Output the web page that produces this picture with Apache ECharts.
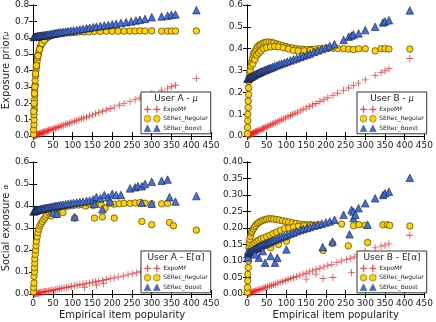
<!DOCTYPE html>
<html>
<head>
<meta charset="utf-8">
<script src="https://cdn.jsdelivr.net/npm/echarts@6/dist/echarts.min.js"></script>
<style>
    html, body { margin: 0; padding: 0; background: #fff; }
    #main { width: 436px; height: 322px; }
</style>
</head>
<body>
<div id="main"></div>
<script>
// ---- data: [popularity, value] ----
var xTicks = [0, 50, 100, 150, 200, 250, 300, 350, 400, 450];
var yMaxes = [0.8, 0.6, 0.6, 0.4];
var ySteps = [0.1, 0.1, 0.1, 0.05];
var seriesNames = ['ExpoMF', 'SERec_Regular', 'SERec_Boost'];
var panelTitles = ['User A - ', 'User B - ', 'User A - ', 'User B - '];
var panelSymbols = ['μ', 'μ', 'E[α]', 'E[α]'];

var expoA_mu = [[2,0.0],[4,0.002],[5,0.004],[6,0.005],[8,0.007],[9,0.008],[10,0.009],[12,0.01],[13,0.011],[15,0.013],[16,0.014],[18,0.016],[20,0.017],[22,0.019],[24,0.021],[26,0.022],[28,0.024],[30,0.026],[33,0.028],[36,0.031],[39,0.034],[42,0.036],[45,0.039],[48,0.041],[52,0.045],[56,0.048],[60,0.052],[64,0.055],[68,0.059],[72,0.062],[77,0.066],[82,0.071],[87,0.075],[92,0.079],[98,0.084],[104,0.09],[110,0.095],[116,0.1],[122,0.105],[128,0.11],[135,0.116],[142,0.122],[150,0.129],[158,0.136],[166,0.143],[175,0.151],[185,0.159],[195,0.168],[205,0.176],[218,0.188],[230,0.198],[245,0.211],[258,0.222],[270,0.232],[283,0.243],[300,0.258],[325,0.28],[340,0.292],[350,0.301],[360,0.31],[413,0.352]];
var regA_mu = [[1,0.01],[1,0.04],[2,0.07],[2,0.1],[2,0.13],[3,0.16],[3,0.19],[3,0.22],[4,0.25],[4,0.28],[5,0.31],[5,0.34],[6,0.37],[7,0.4],[8,0.42],[9,0.44],[10,0.46],[11,0.48],[13,0.5],[15,0.52],[17,0.54],[20,0.555],[23,0.57],[26,0.58],[30,0.59],[34,0.6],[38,0.605],[43,0.61],[48,0.615],[54,0.62],[60,0.62],[67,0.625],[75,0.625],[85,0.63],[95,0.63],[105,0.632],[115,0.635],[128,0.635],[140,0.636],[155,0.638],[170,0.638],[185,0.64],[200,0.64],[215,0.64],[230,0.64],[245,0.641],[258,0.641],[270,0.642],[283,0.641],[300,0.642],[325,0.64],[340,0.641],[350,0.641],[360,0.641],[413,0.642],[4,0.3],[6,0.38],[8,0.43],[12,0.49],[16,0.53],[22,0.565],[28,0.585],[2,0.2],[3,0.26],[1,0.15]];
var boostA_mu = [[1,0.605],[3,0.606],[5,0.606],[7,0.607],[9,0.608],[11,0.609],[13,0.61],[15,0.611],[18,0.612],[21,0.613],[24,0.614],[27,0.615],[30,0.616],[33,0.618],[36,0.619],[40,0.62],[44,0.622],[48,0.624],[52,0.626],[56,0.628],[60,0.63],[65,0.632],[70,0.634],[76,0.636],[82,0.638],[88,0.64],[95,0.643],[102,0.645],[110,0.648],[118,0.651],[126,0.655],[135,0.658],[143,0.661],[152,0.665],[160,0.668],[170,0.671],[180,0.675],[190,0.678],[200,0.682],[210,0.685],[222,0.69],[235,0.695],[248,0.7],[260,0.705],[270,0.71],[283,0.715],[300,0.725],[325,0.73],[340,0.735],[350,0.74],[360,0.742],[413,0.768]];

var expoB_mu = [[2,0.0],[4,0.002],[5,0.003],[6,0.005],[8,0.006],[9,0.008],[10,0.009],[12,0.01],[13,0.011],[15,0.012],[16,0.014],[18,0.015],[20,0.017],[22,0.019],[24,0.02],[26,0.022],[28,0.024],[30,0.025],[33,0.028],[36,0.03],[39,0.033],[42,0.035],[45,0.038],[48,0.041],[52,0.044],[56,0.047],[60,0.051],[64,0.054],[68,0.058],[72,0.061],[77,0.065],[82,0.07],[87,0.074],[92,0.078],[98,0.083],[104,0.088],[110,0.094],[116,0.099],[122,0.104],[128,0.109],[135,0.115],[142,0.121],[150,0.128],[158,0.135],[166,0.142],[175,0.149],[185,0.158],[195,0.166],[205,0.175],[218,0.186],[230,0.196],[245,0.209],[258,0.22],[270,0.231],[283,0.242],[300,0.257],[325,0.278],[340,0.29],[350,0.299],[360,0.308],[413,0.355]];
var regB_mu = [[1,0.01],[1,0.04],[2,0.07],[2,0.1],[3,0.13],[3,0.16],[4,0.19],[4,0.22],[5,0.25],[6,0.27],[7,0.29],[8,0.3],[10,0.32],[12,0.34],[14,0.355],[16,0.37],[18,0.38],[21,0.39],[24,0.4],[27,0.41],[31,0.415],[35,0.42],[40,0.425],[45,0.428],[50,0.43],[56,0.43],[62,0.428],[68,0.426],[75,0.422],[82,0.418],[90,0.414],[98,0.41],[106,0.406],[115,0.403],[124,0.4],[133,0.398],[142,0.397],[152,0.396],[162,0.397],[172,0.398],[182,0.4],[193,0.401],[205,0.402],[218,0.402],[230,0.401],[245,0.4],[258,0.398],[270,0.396],[283,0.399],[300,0.4],[325,0.39],[340,0.4],[350,0.4],[360,0.398],[413,0.398],[15,0.33],[20,0.35],[25,0.37],[30,0.38],[35,0.39],[42,0.4],[50,0.405],[60,0.408],[70,0.41],[80,0.408],[92,0.404],[105,0.398],[118,0.392],[130,0.39],[145,0.39],[160,0.392]];
var boostB_mu = [[1,0.262],[3,0.264],[5,0.266],[7,0.268],[9,0.27],[11,0.272],[13,0.274],[15,0.276],[18,0.279],[21,0.282],[24,0.285],[27,0.287],[30,0.29],[33,0.292],[36,0.295],[40,0.298],[44,0.301],[48,0.304],[52,0.307],[56,0.31],[60,0.312],[65,0.316],[70,0.32],[76,0.324],[82,0.328],[88,0.332],[95,0.336],[102,0.341],[110,0.346],[118,0.351],[126,0.356],[135,0.362],[143,0.367],[152,0.373],[160,0.378],[170,0.385],[180,0.392],[190,0.398],[200,0.405],[210,0.412],[222,0.42],[245,0.44],[258,0.455],[265,0.46],[270,0.465],[283,0.47],[300,0.485],[325,0.5],[345,0.52],[350,0.525],[360,0.53],[413,0.575]];

var expoA_al = [[2,0.0],[4,0.001],[6,0.002],[8,0.003],[10,0.003],[12,0.004],[14,0.005],[16,0.006],[19,0.007],[22,0.008],[25,0.009],[28,0.01],[31,0.011],[35,0.012],[39,0.014],[43,0.015],[47,0.017],[52,0.018],[57,0.02],[62,0.022],[67,0.024],[72,0.026],[78,0.028],[84,0.03],[90,0.032],[97,0.034],[104,0.037],[111,0.04],[118,0.042],[126,0.045],[134,0.048],[142,0.05],[150,0.053],[158,0.056],[166,0.059],[175,0.062],[185,0.066],[195,0.07],[205,0.073],[215,0.077],[228,0.082],[240,0.087],[252,0.092],[262,0.097],[272,0.102],[282,0.108],[292,0.112],[130,0.03],[160,0.04],[178,0.047]];
var regA_al = [[1,0.01],[1,0.03],[2,0.05],[2,0.08],[3,0.1],[3,0.12],[4,0.14],[4,0.16],[5,0.18],[6,0.2],[7,0.22],[8,0.24],[10,0.26],[12,0.28],[14,0.295],[17,0.31],[20,0.32],[23,0.33],[27,0.34],[31,0.35],[35,0.36],[40,0.37],[45,0.375],[50,0.38],[56,0.385],[62,0.39],[68,0.393],[75,0.396],[82,0.398],[90,0.4],[98,0.402],[106,0.404],[115,0.405],[124,0.406],[133,0.4],[142,0.41],[152,0.402],[162,0.41],[172,0.405],[182,0.39],[193,0.412],[205,0.408],[218,0.41],[230,0.412],[245,0.412],[258,0.414],[270,0.415],[283,0.412],[300,0.41],[325,0.41],[340,0.412],[105,0.345],[155,0.345],[175,0.35],[205,0.345],[275,0.33],[300,0.315],[345,0.325],[355,0.31],[413,0.29],[60,0.36],[75,0.37],[45,0.355]];
var boostA_al = [[1,0.375],[3,0.377],[5,0.378],[7,0.38],[9,0.381],[11,0.382],[13,0.383],[15,0.384],[18,0.385],[21,0.387],[24,0.388],[27,0.389],[30,0.39],[33,0.391],[36,0.392],[40,0.394],[44,0.395],[48,0.397],[52,0.398],[56,0.4],[60,0.401],[65,0.403],[70,0.405],[76,0.406],[82,0.408],[88,0.41],[95,0.412],[102,0.414],[110,0.416],[118,0.418],[126,0.42],[135,0.423],[143,0.425],[152,0.43],[160,0.44],[170,0.435],[180,0.45],[190,0.44],[200,0.455],[210,0.45],[222,0.45],[245,0.48],[258,0.485],[265,0.49],[275,0.49],[283,0.5],[300,0.51],[325,0.515],[340,0.52],[105,0.35],[175,0.385],[50,0.37],[60,0.365],[275,0.415],[300,0.41],[345,0.44],[360,0.42],[413,0.445],[155,0.41],[195,0.42]];

var expoB_al = [[2,0.0],[4,0.001],[6,0.002],[8,0.003],[10,0.004],[12,0.005],[14,0.006],[16,0.007],[19,0.008],[22,0.009],[25,0.01],[28,0.012],[31,0.013],[35,0.015],[39,0.016],[43,0.018],[47,0.02],[52,0.022],[57,0.024],[62,0.026],[67,0.028],[72,0.03],[78,0.033],[84,0.035],[90,0.038],[97,0.041],[104,0.044],[111,0.047],[118,0.05],[126,0.053],[134,0.057],[142,0.06],[150,0.063],[158,0.067],[166,0.07],[175,0.074],[185,0.078],[195,0.082],[205,0.086],[215,0.09],[228,0.095],[240,0.1],[252,0.104],[262,0.108],[272,0.112],[283,0.12],[300,0.13],[325,0.14],[340,0.145],[350,0.148],[360,0.152],[413,0.178],[193,0.047],[218,0.05],[265,0.065],[300,0.08],[150,0.045],[175,0.06]];
var regB_al = [[1,0.005],[1,0.02],[2,0.04],[2,0.06],[3,0.08],[4,0.1],[4,0.12],[5,0.14],[6,0.155],[7,0.165],[9,0.175],[11,0.185],[13,0.19],[16,0.197],[19,0.203],[22,0.208],[26,0.213],[30,0.217],[35,0.22],[40,0.223],[45,0.225],[50,0.227],[56,0.228],[62,0.228],[68,0.227],[75,0.226],[82,0.224],[90,0.222],[98,0.22],[106,0.218],[115,0.216],[124,0.214],[133,0.212],[142,0.211],[152,0.21],[162,0.21],[172,0.209],[182,0.21],[15,0.15],[20,0.155],[25,0.16],[30,0.163],[36,0.167],[42,0.17],[50,0.174],[58,0.178],[66,0.183],[75,0.188],[85,0.193],[95,0.198],[106,0.2],[118,0.203],[130,0.205],[145,0.207],[160,0.208],[193,0.132],[217,0.153],[257,0.146],[306,0.156],[270,0.207],[284,0.21],[240,0.212],[300,0.208],[345,0.21],[356,0.21],[362,0.208],[413,0.206],[60,0.14],[80,0.15],[100,0.16]];
var boostB_al = [[1,0.12],[2,0.11],[3,0.13],[5,0.125],[7,0.127],[9,0.128],[11,0.13],[13,0.131],[15,0.133],[18,0.135],[21,0.137],[24,0.139],[27,0.141],[30,0.143],[33,0.145],[36,0.147],[40,0.149],[44,0.151],[48,0.153],[52,0.155],[56,0.157],[60,0.159],[65,0.162],[70,0.164],[76,0.167],[82,0.17],[88,0.173],[95,0.176],[102,0.179],[110,0.183],[118,0.186],[126,0.19],[135,0.194],[143,0.197],[152,0.2],[160,0.203],[170,0.207],[180,0.21],[190,0.213],[200,0.217],[210,0.22],[222,0.225],[245,0.24],[265,0.255],[270,0.25],[283,0.26],[300,0.275],[325,0.29],[345,0.3],[350,0.305],[360,0.31],[413,0.352],[46,0.095],[71,0.095],[77,0.11],[60,0.115],[30,0.11],[100,0.135],[192,0.142],[217,0.159],[260,0.181],[270,0.23],[275,0.24],[306,0.21],[20,0.12],[40,0.13]];

(function () {
    "use strict";

    var FONT = 'DejaVu Sans';
    var panelData = [
        [expoA_mu, regA_mu, boostA_mu],
        [expoB_mu, regB_mu, boostB_mu],
        [expoA_al, regA_al, boostA_al],
        [expoB_al, regB_al, boostB_al]
    ];
    var grids = [
        { left: 31, top: 5, width: 180, height: 131 },
        { left: 247, top: 5, width: 179, height: 131 },
        { left: 31, top: 162, width: 180, height: 132 },
        { left: 247, top: 162, width: 179, height: 132 }
    ];
    var legendPos = [[141, 92], [357, 92], [141, 251], [357, 251]];

    var plusPath = 'path://M4.4,0h1.2v4.4h4.4v1.2h-4.4v4.4h-1.2v-4.4h-4.4v-1.2h4.4z';
    var plusPair = 'path://M4,0h2v4h4v2h-4v4h-2v-4h-4v-2h4zM18,0h2v4h4v2h-4v4h-2v-4h-4v-2h4z';
    var circlePair = 'path://M0,5a5,5 0 1,0 10,0a5,5 0 1,0 -10,0zM14,5a5,5 0 1,0 10,0a5,5 0 1,0 -10,0z';
    var triPair = 'path://M0,10L5,0L10,10zM14,10L19,0L24,10z';

    var styles = [
        { symbol: plusPath, size: 7, color: 'rgba(238,30,30,0.8)', border: 'rgba(0,0,0,0)', bw: 0, icon: plusPair },
        { symbol: 'circle', size: 6.5, color: '#FFD200', border: '#2a2400', bw: 0.6, icon: circlePair },
        { symbol: 'triangle', size: 7.5, color: '#4470DC', border: '#101830', bw: 0.6, icon: triPair }
    ];

    function tickFmt(i) {
        return function (v) {
            return ySteps[i] < 0.1 ? v.toFixed(2) : v.toFixed(1);
        };
    }

    function getXAxis() {
        var axes = [];
        for (var i = 0; i < 4; i++) {
            var showName = i >= 2;
            axes.push({
                type: 'value', gridIndex: i, position: 'bottom',
                min: xTicks[0], max: xTicks[xTicks.length - 1], interval: xTicks[1] - xTicks[0],
                name: showName ? 'Empirical item popularity' : '',
                nameLocation: 'middle', nameGap: 16,
                nameTextStyle: { fontFamily: FONT, fontSize: 10, color: '#222' },
                axisLine: { lineStyle: { color: '#000', width: 1 } },
                axisTick: { inside: true, length: 4, lineStyle: { color: '#000' } },
                axisLabel: { fontFamily: FONT, fontSize: 9, color: '#222', margin: 5 },
                splitLine: { show: false }
            });
            axes.push({
                type: 'value', gridIndex: i, position: 'top',
                min: xTicks[0], max: xTicks[xTicks.length - 1], interval: xTicks[1] - xTicks[0],
                axisLine: { lineStyle: { color: '#000', width: 1 } },
                axisTick: { inside: true, length: 4, lineStyle: { color: '#000' } },
                axisLabel: { show: false },
                splitLine: { show: false }
            });
        }
        return axes;
    }

    function getYAxis() {
        var axes = [];
        var names = ['{a|Exposure prior}{b|μ}', '', '{a|Social exposure }{b|α}', ''];
        for (var i = 0; i < 4; i++) {
            axes.push({
                type: 'value', gridIndex: i, position: 'left',
                min: 0, max: yMaxes[i], interval: ySteps[i],
                name: names[i], nameLocation: 'middle', nameGap: 16,
                nameTextStyle: {
                    color: '#222',
                    rich: {
                        a: { fontFamily: FONT, fontSize: 10, color: '#222' },
                        b: { fontFamily: FONT, fontSize: 7, color: '#222', fontStyle: 'italic' }
                    }
                },
                axisLine: { lineStyle: { color: '#000', width: 1 } },
                axisTick: { inside: true, length: 4, lineStyle: { color: '#000' } },
                axisLabel: { fontFamily: FONT, fontSize: 9, color: '#222', margin: 4, formatter: tickFmt(i) },
                splitLine: { show: false }
            });
            axes.push({
                type: 'value', gridIndex: i, position: 'right',
                min: 0, max: yMaxes[i], interval: ySteps[i],
                axisLine: { lineStyle: { color: '#000', width: 1 } },
                axisTick: { inside: true, length: 4, lineStyle: { color: '#000' } },
                axisLabel: { show: false },
                splitLine: { show: false }
            });
        }
        return axes;
    }

    function getSeries() {
        var all = [];
        for (var i = 0; i < 4; i++) {
            for (var s = 0; s < 3; s++) {
                all.push({
                    name: seriesNames[s],
                    type: 'scatter',
                    xAxisIndex: 2 * i,
                    yAxisIndex: 2 * i,
                    symbol: styles[s].symbol,
                    symbolSize: styles[s].size,
                    z: 2 + s,
                    itemStyle: {
                        color: styles[s].color,
                        borderColor: styles[s].border,
                        borderWidth: styles[s].bw,
                        opacity: 1
                    },
                    data: panelData[i][s]
                });
            }
        }
        return all;
    }

    function getLegend() {
        var legends = [];
        for (var i = 0; i < 4; i++) {
            legends.push({
                left: legendPos[i][0], top: legendPos[i][1],
                orient: 'vertical',
                itemWidth: 16, itemHeight: 7, itemGap: 2.5,
                padding: [14, 3, 2, 3],
                backgroundColor: '#fff',
                borderColor: '#333', borderWidth: 1,
                selectedMode: false,
                textStyle: { fontFamily: FONT, fontSize: 6, color: '#222', padding: [0, 0, 0, -2] },
                data: seriesNames.map(function (n, s) {
                    return {
                        name: n, icon: styles[s].icon,
                        itemStyle: { color: styles[s].color, borderColor: '#222', borderWidth: s === 0 ? 0 : 0.4 }
                    };
                })
            });
        }
        return legends;
    }

    function getTitles() {
        var items = [];
        for (var i = 0; i < 4; i++) {
            items.push({
                type: 'text', z: 100,
                x: legendPos[i][0] + 35, y: legendPos[i][1] + 7,
                style: {
                    text: '{a|' + panelTitles[i] + '}{b|' + panelSymbols[i] + '}',
                    align: 'center', verticalAlign: 'middle',
                    rich: {
                        a: { fontFamily: FONT, fontSize: 9, fill: '#222' },
                        b: { fontFamily: FONT, fontSize: i < 2 ? 8 : 9, fill: '#222', fontStyle: i < 2 ? 'italic' : 'normal' }
                    }
                }
            });
        }
        return items;
    }

    var chart = echarts.init(document.getElementById('main'), null, { renderer: 'canvas' });
    chart.setOption({
        animation: false,
        backgroundColor: '#fff',
        grid: grids,
        xAxis: getXAxis(),
        yAxis: getYAxis(),
        legend: getLegend(),
        graphic: getTitles(),
        series: getSeries()
    });
}());
</script>
</body>
</html>
